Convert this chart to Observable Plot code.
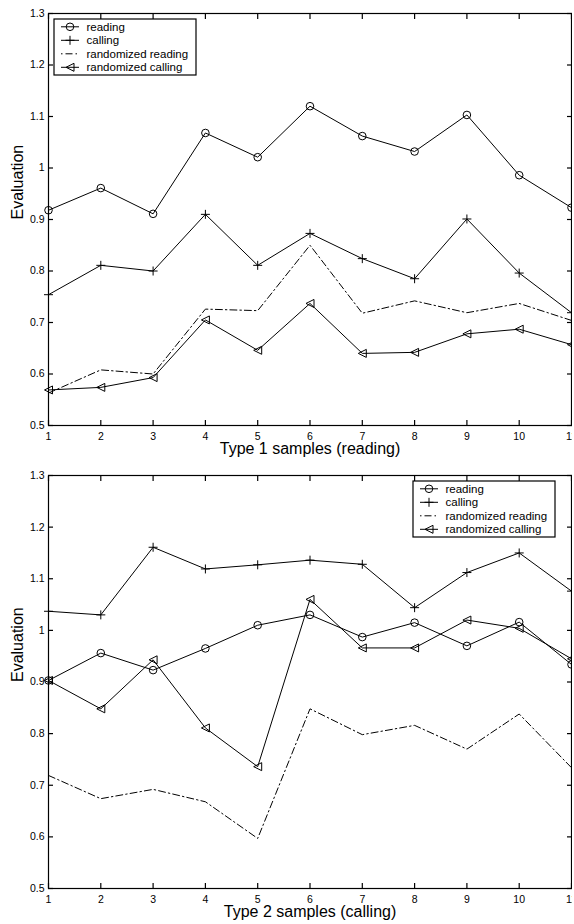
<!DOCTYPE html>
<html>
<head>
<meta charset="utf-8">
<script src="https://cdn.jsdelivr.net/npm/d3@7"></script>
<script src="https://cdn.jsdelivr.net/npm/@observablehq/plot@0.6"></script>
<style>
  html, body { margin: 0; padding: 0; background: #fff; }
  .panel { position: relative; width: 574px; height: 462px; overflow: hidden; }
  .panel svg.plotsvg { display: block; }
  svg.plotsvg g[aria-label="y-axis tick label"] text,
  svg.plotsvg g[aria-label="x-axis tick label"] text { font-size: 10.5px; }
  .legend { position: absolute; }
</style>
</head>
<body>
<div id="chart"></div>
<script>
// ---- data ----
const samples = [1, 2, 3, 4, 5, 6, 7, 8, 9, 10, 11];
const xTicks = [1, 2, 3, 4, 5, 6, 7, 8, 9, 10, 11];
const yTicks = [0.5, 0.6, 0.7, 0.8, 0.9, 1.0, 1.1, 1.2, 1.3];
const seriesNames = ["reading", "calling", "randomized reading", "randomized calling"];
const yLabel = "Evaluation";
const xLabels = ["Type 1 samples (reading)", "Type 2 samples (calling)"];

const type1Reading      = [0.918, 0.961, 0.911, 1.068, 1.021, 1.120, 1.062, 1.032, 1.103, 0.986, 0.923];
const type1Calling      = [0.754, 0.811, 0.800, 0.910, 0.811, 0.873, 0.824, 0.785, 0.901, 0.796, 0.719];
const type1RandReading  = [0.563, 0.608, 0.600, 0.726, 0.723, 0.850, 0.718, 0.742, 0.719, 0.737, 0.704];
const type1RandCalling  = [0.569, 0.574, 0.593, 0.705, 0.646, 0.737, 0.640, 0.642, 0.678, 0.687, 0.657];

const type2Reading      = [0.903, 0.956, 0.923, 0.965, 1.010, 1.030, 0.987, 1.015, 0.970, 1.016, 0.934];
const type2Calling      = [1.037, 1.030, 1.161, 1.119, 1.127, 1.136, 1.128, 1.044, 1.112, 1.150, 1.076];
const type2RandReading  = [0.719, 0.674, 0.692, 0.668, 0.597, 0.848, 0.798, 0.816, 0.770, 0.838, 0.734];
const type2RandCalling  = [0.903, 0.848, 0.943, 0.811, 0.736, 1.060, 0.966, 0.966, 1.020, 1.004, 0.945];

// ---- styles ----
const FONT = '"Liberation Sans", Arial, Helvetica, sans-serif';
const plusSymbol = {
  draw(ctx, size) {
    const r = Math.sqrt(size / Math.PI);
    ctx.moveTo(-r, 0); ctx.lineTo(r, 0);
    ctx.moveTo(0, -r); ctx.lineTo(0, r);
  }
};
const leftTriangle = {
  draw(ctx, size) {
    const r = Math.sqrt(size / Math.PI);
    ctx.moveTo(-r, 0); ctx.lineTo(r, -r); ctx.lineTo(r, r); ctx.closePath();
  }
};
const seriesStyle = [
  {symbol: "circle", r: 3.8, dash: null},
  {symbol: plusSymbol, r: 4.5, dash: null},
  {symbol: null, r: 0, dash: "7,3,1.5,3"},
  {symbol: leftTriangle, r: 4, dash: null}
];

const panels = [
  {xLabel: xLabels[0], values: [type1Reading, type1Calling, type1RandReading, type1RandCalling],
   marginBottom: 37, legend: {left: 53.5, top: 18.5}},
  {xLabel: xLabels[1], values: [type2Reading, type2Calling, type2RandReading, type2RandCalling],
   marginBottom: 36, legend: {left: 412.5, top: 19}}
];

const fmt = d => String(+d.toFixed(1));

function makePanel(p) {
  const rows = [];
  seriesNames.forEach((s, si) => p.values[si].forEach((v, i) => rows.push({series: s, si, sample: samples[i], value: v})));

  const marks = [];
  seriesNames.forEach((s, si) => {
    const data = rows.filter(r => r.si === si);
    const st = seriesStyle[si];
    marks.push(Plot.line(data, {x: "sample", y: "value", stroke: "black", strokeWidth: 1,
      strokeDasharray: st.dash || undefined}));
    if (st.symbol) {
      marks.push(Plot.dot(data, {x: "sample", y: "value", symbol: st.symbol, r: st.r,
        stroke: "black", strokeWidth: 1, fill: "none"}));
    }
  });

  marks.push(
    Plot.frame({stroke: "black", strokeWidth: 1.2}),
    Plot.axisY(yTicks, {anchor: "left", tickSize: -5, tickPadding: 9, tickFormat: fmt, label: null, fontSize: 10.5, strokeWidth: 1.2}),
    Plot.axisY(yTicks, {anchor: "right", tickSize: -5, tickFormat: () => "", label: null, strokeWidth: 1.2}),
    Plot.axisX(xTicks, {anchor: "bottom", tickSize: -5, tickPadding: 12, tickFormat: d => String(d), label: null, fontSize: 10.5, strokeWidth: 1.2}),
    Plot.axisX(xTicks, {anchor: "top", tickSize: -5, tickFormat: () => "", label: null, strokeWidth: 1.2}),
    Plot.text([yLabel], {text: d => d, frameAnchor: "left", dx: -31, rotate: -90, fontSize: 16, fill: "black"}),
    Plot.text([p.xLabel], {text: d => d, frameAnchor: "bottom", dy: 28.5, fontSize: 16, fill: "black"})
  );

  const svg = Plot.plot({
    width: 572,
    height: 462,
    marginTop: 13,
    marginBottom: p.marginBottom,
    marginLeft: 48,
    marginRight: 1,
    x: {domain: [1, 11], axis: null},
    y: {domain: [0.5, 1.3], axis: null},
    style: {fontFamily: FONT, fontSize: "10.5px", color: "black", background: "white", overflow: "hidden"},
    marks
  });
  svg.classList.add("plotsvg");

  const div = document.createElement("div");
  div.className = "panel";
  div.appendChild(svg);

  // legend (overlay)
  const W = 142, H = 56, rowGap = 13.5, firstRow = 7.8;
  const lg = d3.create("svg").attr("class", "legend").attr("width", W + 2).attr("height", H + 2)
    .style("left", (p.legend.left - 1) + "px").style("top", (p.legend.top - 1) + "px");
  const g = lg.append("g").attr("transform", "translate(1,1)");
  g.append("rect").attr("x", 0).attr("y", 0).attr("width", W).attr("height", H)
    .attr("fill", "white").attr("stroke", "black").attr("stroke-width", 1.2);
  seriesNames.forEach((s, si) => {
    const y = firstRow + si * rowGap;
    const st = seriesStyle[si];
    g.append("line").attr("x1", 7).attr("x2", 25).attr("y1", y).attr("y2", y)
      .attr("stroke", "black").attr("stroke-width", 1)
      .attr("stroke-dasharray", st.dash ? "1.5,3,7,3" : null);
    if (st.symbol === "circle") {
      g.append("circle").attr("cx", 16).attr("cy", y).attr("r", st.r).attr("fill", "none").attr("stroke", "black");
    } else if (st.symbol) {
      const path = d3.path();
      st.symbol.draw(path, st.r * st.r * Math.PI);
      g.append("path").attr("d", path.toString()).attr("transform", `translate(16,${y})`)
        .attr("fill", "none").attr("stroke", "black");
    }
    g.append("text").attr("x", 32.5).attr("y", y).attr("dy", "0.35em")
      .attr("font-family", FONT).attr("font-size", 11.5).attr("fill", "black").text(s);
  });
  div.appendChild(lg.node());
  return div;
}

const root = document.getElementById("chart");
panels.forEach(p => root.appendChild(makePanel(p)));
</script>
</body>
</html>
